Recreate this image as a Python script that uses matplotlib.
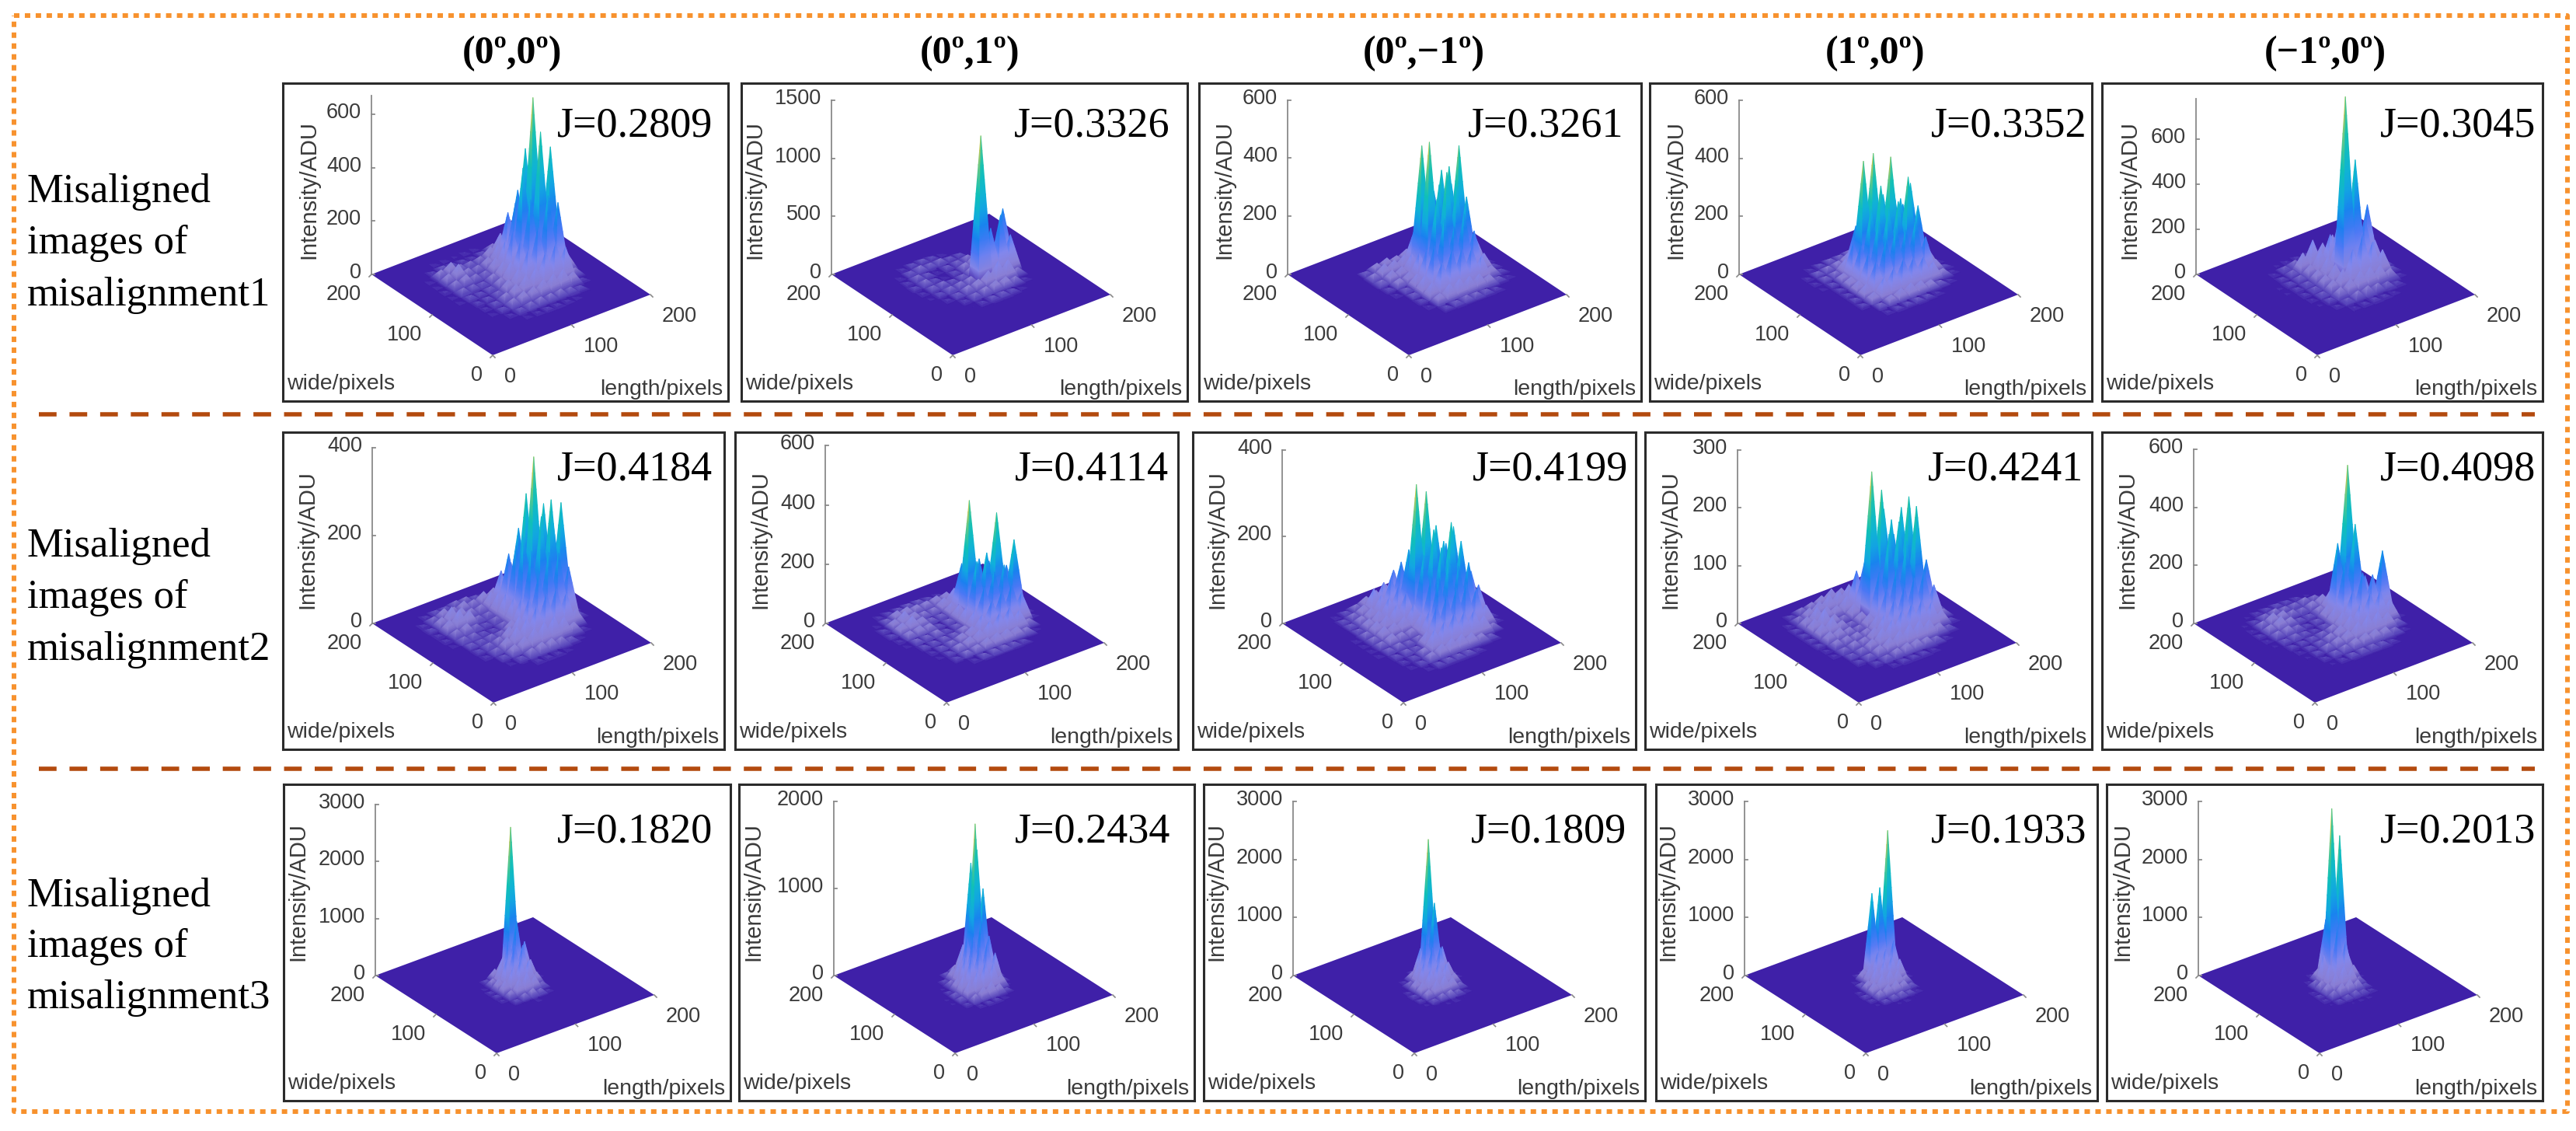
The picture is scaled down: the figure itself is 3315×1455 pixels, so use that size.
import numpy as np
import matplotlib
matplotlib.use("Agg")
import matplotlib.pyplot as plt
import matplotlib.tri as mtri
from matplotlib.colors import LinearSegmentedColormap, Normalize

# === Data ===
column_titles = ["(0º,0º)", "(0º,1º)", "(0º,−1º)", "(1º,0º)", "(−1º,0º)"]
row_labels = ["misalignment1", "misalignment2", "misalignment3"]

j_values = [
    ["J=0.2809", "J=0.3326", "J=0.3261", "J=0.3352", "J=0.3045"],
    ["J=0.4184", "J=0.4114", "J=0.4199", "J=0.4241", "J=0.4098"],
    ["J=0.1820", "J=0.2434", "J=0.1809", "J=0.1933", "J=0.2013"],
]

z_ticks = [
    [[0, 200, 400, 600], [0, 500, 1000, 1500], [0, 200, 400, 600], [0, 200, 400, 600], [0, 200, 400, 600]],
    [[0, 200, 400], [0, 200, 400, 600], [0, 200, 400], [0, 100, 200, 300], [0, 200, 400, 600]],
    [[0, 1000, 2000, 3000], [0, 1000, 2000], [0, 1000, 2000, 3000], [0, 1000, 2000, 3000], [0, 1000, 2000, 3000]],
]
z_axis_top = [
    [670, 1500, 600, 600, 780],
    [400, 600, 400, 300, 600],
    [3000, 2000, 3000, 3000, 3000],
]
base_ticks = [0, 100, 200]

# Intensity estimates. Rows go from large wide to small wide, columns from small
# length to large length; everything outside the block is flat floor.
h_r1c1 = [
    [0, 0, 5, 5, 4, 6, 5, 0, 0, 0, 0, 0],
    [0, 10, 18, 14, 12, 9, 15, 30, 42, 10, 0, 0],
    [5, 36, 50, 28, 26, 30, 52, 88, 125, 58, 0, 0],
    [5, 40, 62, 33, 30, 46, 78, 185, 255, 150, 10, 0],
    [8, 34, 42, 30, 28, 62, 112, 240, 430, 330, 20, 0],
    [5, 25, 24, 20, 36, 68, 165, 390, 640, 300, 60, 0],
    [5, 17, 15, 21, 40, 84, 150, 290, 530, 460, 70, 0],
    [0, 12, 16, 24, 52, 78, 135, 205, 310, 270, 62, 0],
    [0, 8, 18, 36, 54, 72, 88, 132, 148, 122, 30, 0],
    [0, 5, 15, 34, 46, 49, 62, 68, 72, 48, 10, 0],
    [0, 0, 8, 18, 26, 30, 29, 31, 24, 15, 0, 0],
    [0, 0, 0, 5, 8, 10, 9, 8, 5, 0, 0, 0],
]
h_r1c2 = [
    [0, 0, 0, 0, 0, 0, 0, 0, 0, 0, 0, 0],
    [0, 0, 15, 30, 35, 25, 10, 0, 0, 0, 0, 0],
    [0, 12, 40, 55, 45, 50, 35, 30, 0, 0, 0, 0],
    [0, 20, 50, 35, 12, 35, 45, 60, 40, 0, 0, 0],
    [0, 25, 55, 30, 10, 30, 70, 120, 200, 150, 0, 0],
    [0, 15, 45, 50, 35, 45, 90, 350, 240, 480, 0, 0],
    [0, 8, 30, 50, 60, 70, 1250, 420, 500, 300, 0, 0],
    [0, 0, 15, 40, 70, 90, 130, 180, 160, 60, 0, 0],
    [0, 0, 0, 20, 50, 70, 90, 90, 60, 15, 0, 0],
    [0, 0, 0, 5, 20, 35, 40, 30, 10, 0, 0, 0],
    [0, 0, 0, 0, 0, 0, 0, 0, 0, 0, 0, 0],
    [0, 0, 0, 0, 0, 0, 0, 0, 0, 0, 0, 0],
]
h_r1c3 = [
    [0, 0, 0, 0, 0, 0, 0, 0, 0, 0, 0, 0],
    [0, 0, 0, 0, 0, 0, 0, 0, 0, 0, 0, 0],
    [0, 0, 15, 30, 35, 30, 40, 60, 50, 20, 0, 0],
    [0, 0, 25, 45, 45, 50, 120, 180, 230, 120, 10, 0],
    [0, 0, 20, 40, 40, 70, 430, 220, 320, 260, 30, 0],
    [0, 0, 10, 30, 40, 90, 460, 300, 350, 409, 80, 5],
    [0, 0, 5, 15, 50, 120, 280, 360, 300, 250, 90, 8],
    [0, 0, 0, 15, 60, 150, 230, 190, 220, 150, 60, 10],
    [0, 0, 0, 10, 55, 110, 140, 130, 120, 80, 35, 10],
    [0, 0, 0, 5, 35, 55, 60, 55, 50, 35, 15, 5],
    [0, 0, 0, 0, 10, 15, 20, 18, 15, 8, 0, 0],
    [0, 0, 0, 0, 0, 0, 0, 0, 0, 0, 0, 0],
]
h_r1c4 = [
    [0, 0, 0, 0, 0, 0, 0, 0, 0, 0, 0, 0],
    [0, 0, 5, 10, 15, 15, 20, 10, 5, 0, 0, 0],
    [0, 5, 15, 20, 25, 40, 80, 60, 40, 15, 0, 0],
    [0, 5, 15, 20, 50, 150, 190, 210, 170, 60, 0, 0],
    [0, 3, 10, 30, 120, 391, 405, 250, 270, 190, 15, 0],
    [0, 0, 8, 35, 130, 240, 310, 397, 240, 280, 50, 0],
    [0, 0, 8, 40, 120, 220, 250, 260, 332, 220, 60, 5],
    [0, 0, 10, 45, 110, 170, 200, 180, 200, 130, 40, 8],
    [0, 0, 8, 35, 70, 90, 110, 100, 90, 60, 25, 5],
    [0, 0, 0, 15, 30, 40, 45, 40, 30, 15, 5, 0],
    [0, 0, 0, 5, 8, 10, 12, 10, 5, 0, 0, 0],
    [0, 0, 0, 0, 0, 0, 0, 0, 0, 0, 0, 0],
]
h_r1c5 = [
    [0, 0, 0, 0, 0, 0, 0, 0, 0, 0, 0, 0],
    [0, 0, 0, 5, 8, 10, 10, 5, 0, 0, 0, 0],
    [0, 0, 8, 25, 35, 30, 30, 40, 20, 0, 0, 0],
    [0, 3, 15, 30, 90, 130, 100, 120, 70, 10, 0, 0],
    [0, 5, 18, 30, 60, 110, 160, 230, 160, 90, 0, 0],
    [0, 5, 15, 25, 60, 100, 170, 450, 269, 265, 20, 0],
    [0, 0, 12, 25, 60, 90, 817, 520, 240, 130, 25, 0],
    [0, 0, 8, 25, 60, 90, 160, 210, 160, 110, 20, 0],
    [0, 0, 5, 20, 50, 70, 90, 90, 80, 50, 10, 0],
    [0, 0, 0, 10, 25, 40, 45, 40, 30, 15, 0, 0],
    [0, 0, 0, 3, 8, 12, 15, 12, 8, 0, 0, 0],
    [0, 0, 0, 0, 0, 0, 0, 0, 0, 0, 0, 0],
]
h_r2c1 = [
    [0, 5, 10, 10, 15, 15, 10, 5, 0, 0, 0, 0],
    [5, 15, 25, 20, 25, 20, 30, 30, 20, 5, 0, 0],
    [8, 25, 40, 30, 20, 20, 40, 80, 90, 60, 5, 0],
    [5, 30, 45, 35, 15, 15, 50, 130, 180, 140, 30, 0],
    [5, 20, 25, 15, 10, 15, 60, 160, 270, 230, 120, 5],
    [3, 15, 15, 10, 8, 15, 60, 190, 365, 250, 190, 10],
    [0, 12, 12, 15, 15, 30, 70, 170, 240, 270, 255, 15],
    [0, 8, 15, 20, 35, 50, 80, 130, 170, 160, 120, 10],
    [0, 5, 15, 30, 45, 55, 75, 95, 100, 80, 35, 0],
    [0, 0, 10, 25, 35, 45, 50, 55, 45, 25, 5, 0],
    [0, 0, 3, 10, 20, 25, 25, 20, 12, 3, 0, 0],
    [0, 0, 0, 0, 5, 5, 5, 3, 0, 0, 0, 0],
]
h_r2c2 = [
    [0, 5, 8, 10, 12, 12, 8, 5, 0, 0, 0, 0],
    [3, 15, 30, 30, 25, 25, 30, 30, 15, 0, 0, 0],
    [8, 30, 45, 30, 20, 20, 40, 60, 60, 30, 0, 0],
    [8, 35, 45, 30, 15, 15, 40, 160, 120, 100, 10, 0],
    [5, 25, 30, 25, 10, 15, 50, 390, 180, 160, 70, 0],
    [3, 15, 15, 20, 10, 15, 60, 200, 217, 340, 150, 5],
    [0, 10, 12, 15, 15, 25, 60, 130, 170, 180, 253, 10],
    [0, 5, 12, 18, 30, 40, 65, 100, 120, 130, 90, 5],
    [0, 3, 10, 25, 35, 45, 60, 75, 80, 60, 20, 0],
    [0, 0, 8, 18, 25, 35, 40, 40, 35, 20, 3, 0],
    [0, 0, 0, 5, 12, 15, 15, 12, 8, 0, 0, 0],
    [0, 0, 0, 0, 0, 0, 0, 0, 0, 0, 0, 0],
]
h_r2c3 = [
    [0, 3, 8, 15, 25, 30, 35, 20, 5, 0, 0, 0],
    [0, 8, 15, 25, 54, 60, 80, 70, 30, 5, 0, 0],
    [0, 10, 20, 30, 50, 80, 110, 120, 100, 40, 5, 0],
    [0, 10, 25, 35, 55, 75, 150, 190, 170, 130, 10, 0],
    [3, 15, 30, 35, 50, 70, 312, 287, 200, 150, 30, 0],
    [3, 15, 30, 30, 35, 55, 160, 210, 175, 200, 80, 3],
    [3, 15, 25, 20, 20, 45, 120, 180, 230, 178, 100, 5],
    [3, 12, 15, 12, 15, 60, 130, 165, 140, 140, 80, 8],
    [0, 8, 12, 10, 35, 85, 100, 110, 110, 90, 45, 5],
    [0, 5, 8, 18, 50, 60, 70, 65, 60, 40, 15, 0],
    [0, 3, 8, 20, 30, 35, 35, 30, 20, 10, 0, 0],
    [0, 0, 3, 8, 10, 10, 10, 5, 0, 0, 0, 0],
]
h_r2c4 = [
    [0, 5, 12, 15, 20, 25, 20, 10, 0, 0, 0, 0],
    [3, 12, 20, 25, 30, 30, 35, 30, 15, 0, 0, 0],
    [5, 20, 30, 25, 20, 30, 67, 90, 100, 60, 5, 0],
    [5, 25, 35, 20, 12, 25, 80, 150, 170, 120, 60, 0],
    [5, 25, 30, 18, 10, 20, 256, 218, 160, 175, 70, 5],
    [5, 20, 20, 15, 12, 25, 90, 150, 165, 202, 110, 10],
    [3, 15, 15, 15, 15, 30, 70, 100, 140, 194, 95, 15],
    [3, 10, 15, 15, 25, 40, 60, 75, 85, 90, 60, 12],
    [0, 8, 12, 20, 32, 40, 50, 55, 55, 45, 25, 5],
    [0, 5, 10, 18, 25, 30, 35, 35, 30, 18, 8, 0],
    [0, 0, 5, 10, 15, 18, 18, 15, 10, 3, 0, 0],
    [0, 0, 0, 3, 5, 5, 5, 3, 0, 0, 0, 0],
]
h_r2c5 = [
    [0, 3, 8, 10, 12, 10, 8, 3, 0, 0, 0, 0],
    [3, 10, 20, 25, 20, 20, 25, 20, 5, 0, 0, 0],
    [5, 25, 40, 35, 25, 20, 30, 40, 30, 5, 0, 0],
    [8, 30, 45, 30, 15, 15, 30, 70, 80, 50, 0, 0],
    [5, 25, 30, 20, 10, 15, 50, 250, 507, 120, 10, 0],
    [3, 15, 20, 15, 10, 15, 60, 200, 320, 130, 50, 0],
    [0, 10, 12, 15, 20, 30, 60, 120, 170, 150, 220, 5],
    [0, 5, 12, 18, 30, 45, 65, 90, 115, 110, 70, 5],
    [0, 3, 12, 25, 35, 45, 60, 70, 70, 55, 20, 0],
    [0, 0, 8, 18, 25, 35, 40, 40, 35, 20, 5, 0],
    [0, 0, 3, 8, 15, 18, 18, 15, 8, 0, 0, 0],
    [0, 0, 0, 0, 0, 0, 0, 0, 0, 0, 0, 0],
]
h_r3c1 = [
    [0, 0, 0, 0, 30, 60, 40, 0],
    [0, 0, 60, 200, 350, 2590, 500, 60],
    [0, 20, 150, 350, 700, 1000, 600, 50],
    [0, 40, 220, 500, 700, 650, 350, 30],
    [0, 50, 250, 420, 520, 450, 200, 10],
    [0, 30, 150, 300, 350, 250, 100, 0],
    [0, 5, 60, 120, 150, 100, 30, 0],
    [0, 0, 0, 10, 20, 10, 0, 0],
]
h_r3c2 = [
    [0, 0, 0, 50, 100, 300, 1205, 50],
    [0, 0, 40, 150, 300, 600, 1400, 100],
    [0, 10, 80, 250, 500, 1777, 1000, 100],
    [5, 30, 150, 350, 550, 700, 500, 80],
    [10, 60, 220, 400, 480, 500, 350, 40],
    [10, 60, 200, 280, 350, 300, 150, 10],
    [5, 30, 100, 150, 180, 120, 40, 0],
    [0, 5, 20, 30, 30, 15, 0, 0],
]
h_r3c3 = [
    [0, 0, 0, 0, 50, 100, 60, 0],
    [0, 0, 30, 150, 500, 2330, 700, 50],
    [0, 10, 100, 350, 800, 1300, 500, 40],
    [0, 30, 200, 450, 650, 600, 300, 30],
    [5, 50, 220, 380, 450, 380, 180, 10],
    [5, 40, 160, 270, 300, 220, 90, 0],
    [0, 15, 70, 110, 120, 80, 25, 0],
    [0, 0, 5, 15, 20, 10, 0, 0],
]
h_r3c4 = [
    [0, 0, 0, 30, 60, 80, 60, 0],
    [0, 0, 20, 200, 1450, 1500, 2434, 60],
    [0, 10, 80, 300, 500, 500, 600, 60],
    [0, 30, 180, 350, 400, 450, 350, 30],
    [5, 50, 220, 300, 320, 280, 150, 10],
    [5, 40, 150, 200, 220, 170, 80, 0],
    [0, 15, 60, 90, 100, 70, 25, 5],
    [0, 0, 5, 15, 20, 10, 5, 0],
]
h_r3c5 = [
    [0, 0, 0, 30, 60, 70, 30, 0],
    [0, 0, 30, 200, 1000, 900, 400, 20],
    [0, 10, 120, 500, 2978, 2463, 400, 30],
    [0, 30, 180, 400, 1000, 700, 250, 20],
    [5, 50, 200, 320, 400, 320, 120, 10],
    [5, 40, 140, 220, 240, 180, 70, 5],
    [0, 15, 60, 90, 110, 80, 40, 10],
    [0, 0, 5, 15, 20, 20, 10, 0],
]
heights = [
    [h_r1c1, h_r1c2, h_r1c3, h_r1c4, h_r1c5],
    [h_r2c1, h_r2c2, h_r2c3, h_r2c4, h_r2c5],
    [h_r3c1, h_r3c2, h_r3c3, h_r3c4, h_r3c5],
]

# === Layout, in pixels of the 3316x1455 picture ===
W, H = 3316, 1455
box_x = [
    [(364, 937), (954, 1528), (1543, 2112), (2123, 2692), (2705, 3272)],
    [(364, 932), (946, 1516), (1535, 2105), (2117, 2692), (2705, 3272)],
    [(365, 940), (951, 1537), (1549, 2117), (2131, 2699), (2711, 3272)],
]
box_y = [(107, 516), (556, 964), (1009, 1416)]
origin_x = [
    [634, 1226, 1813, 2394, 2982],
    [635, 1218, 1806, 2392, 2979],
    [639, 1229, 1820, 2401, 2985],
]
origin_y = [457, 904, 1355]
# screen pixels per unit along length, wide and intensity
length_dir = [(1.015, -0.39), (1.015, -0.385), (1.015, -0.375)]
wide_dir = [(-0.78, -0.52), (-0.78, -0.51), (-0.78, -0.50)]
z_scale = [
    [0.343, 0.1493, 0.374, 0.373, 0.29],
    [0.565, 0.381, 0.5575, 0.743, 0.373],
    [0.0733, 0.112, 0.0747, 0.0747, 0.0747],
]
# lattice of the height blocks: step, first length/wide value, half width of a spike
lattice = [(12.5, 37.5, 8.5), (12.5, 37.5, 8.5), (10.0, 60.0, 6.5)]
j_right = [
    [917, 1506, 2089, 2686, 3263],
    [917, 1504, 2095, 2681, 3263],
    [917, 1506, 2093, 2685, 3263],
]
j_baseline = [175, 618, 1083]
title_x = [659, 1248, 1832, 2413, 2992]
label_offset = [
    [33, 17, 32, 33, 35],
    [31, 32, 31, 32, 32],
    [18, 18, 16, 15, 20],
]
label_y = [244, 694, 1147]
row_baselines = [(260, 326, 393), (716, 782, 849), (1166, 1231, 1297)]

parula_like = LinearSegmentedColormap.from_list("surface", [
    (0.0, "#3f20a8"), (0.012, "#5a48bc"), (0.04, "#8a7fd4"), (0.12, "#8388ee"),
    (0.2, "#4c78f5"), (0.3, "#1a80f0"), (0.42, "#10aee0"), (0.6, "#10c0b8"),
    (0.78, "#60c888"), (0.92, "#d0c850"), (1.0, "#f8e030"),
])
GREY = "#3a3a3a"
SANS = "Liberation Sans"
SERIF = "Liberation Serif"
LEVELS = 10


def to_screen(l, w, z, r, c):
    sx = origin_x[r][c] + length_dir[r][0] * l + wide_dir[r][0] * w
    sy = origin_y[r] + length_dir[r][1] * l + wide_dir[r][1] * w - z_scale[r][c] * z
    return sx, sy


def draw_surface(ax, r, c):
    # every estimated value is one spike standing on the floor, drawn back to front
    step, first, half = lattice[r]
    block = np.array(heights[r][c], dtype=float)
    rows, cols = block.shape
    spikes = []
    for i in range(rows):
        for j in range(cols):
            if block[i, j] > 0:
                l = first + step * j
                w = first + step * (rows - 1 - i)
                spikes.append((length_dir[r][1] * l + wide_dir[r][1] * w, l, w, block[i, j]))
    spikes.sort(key=lambda s: s[0])

    xs, ys, vals, tris = [], [], [], []
    fractions = np.linspace(0, 1, LEVELS + 1)
    for _, l, w, h in spikes:
        feet = [((l - half, w + half), (l - half, w - half), 1.0),
                ((l + half, w - half), (l - half, w - half), 0.78)]
        for foot_a, foot_b, tone in feet:
            n = len(xs)
            for t in fractions:
                for foot in (foot_a, foot_b):
                    sx, sy = to_screen(foot[0] + (l - foot[0]) * t, foot[1] + (w - foot[1]) * t, h * t, r, c)
                    xs.append(sx)
                    ys.append(sy)
                    vals.append(h * t * tone)
            for k in range(LEVELS):
                a0, b0, a1, b1 = n + 2 * k, n + 2 * k + 1, n + 2 * k + 2, n + 2 * k + 3
                tris.append((a0, b0, a1))
                tris.append((b0, b1, a1))

    corners = [to_screen(a, b, 0, r, c) for a, b in [(0, 0), (200, 0), (200, 200), (0, 200)]]
    ax.fill([p[0] for p in corners], [p[1] for p in corners], color="#3f20a8", lw=0)
    projected = mtri.Triangulation(np.array(xs), np.array(ys), np.array(tris))
    ax.tripcolor(projected, np.array(vals), shading="gouraud", cmap=parula_like, norm=Normalize(0, block.max()))


def draw_axes_marks(ax, r, c):
    # intensity axis, on the left corner of the floor
    x0, y0 = to_screen(0, 200, 0, r, c)
    _, y1 = to_screen(0, 200, z_axis_top[r][c], r, c)
    ax.plot([x0, x0], [y0, y1], color="#8a8a8a", lw=1.3)
    for t in z_ticks[r][c]:
        _, yt = to_screen(0, 200, t, r, c)
        ax.plot([x0, x0 + 4], [yt, yt], color="#8a8a8a", lw=1.3)
        ax.text(x0 - 13, yt - 2, str(t), ha="right", va="center", fontsize=19.5,
                family=SANS, color=GREY, clip_on=False)
    for t in base_ticks:
        xw, yw = to_screen(0, t, 0, r, c)
        ax.text(xw - 13, yw + 26, str(t), ha="right", va="center", fontsize=19.5,
                family=SANS, color=GREY)
        ax.plot([xw, xw - 3], [yw, yw + 3], color="#8a8a8a", lw=1.2)
        xl, yl = to_screen(t, 0, 0, r, c)
        ax.text(xl + 15, yl + 28, str(t), ha="left", va="center", fontsize=19.5,
                family=SANS, color=GREY)
        ax.plot([xl, xl + 3], [yl, yl + 3], color="#8a8a8a", lw=1.2)


def draw_panel(fig, r, c):
    x0, x1 = box_x[r][c]
    y0, y1 = box_y[r]
    ax = fig.add_axes([x0 / W, 1 - y1 / H, (x1 - x0) / W, (y1 - y0) / H])
    draw_surface(ax, r, c)
    draw_axes_marks(ax, r, c)
    ax.set_xlim(x0, x1)
    ax.set_ylim(y1, y0)
    ax.set_xticks([])
    ax.set_yticks([])
    for spine in ax.spines.values():
        spine.set_linewidth(2.2)
        spine.set_color("#2b2b2b")

    ax.text(j_right[r][c], j_baseline[r], j_values[r][c], ha="right", va="baseline",
            fontsize=39, family=SERIF, color="black")
    ax.text(x0 + label_offset[r][c], label_y[r], "Intensity/ADU", rotation=90, ha="center",
            va="center", fontsize=21, family=SANS, color=GREY)
    ax.text(x0 + 5, y1 - 15, "wide/pixels", ha="left", va="baseline", fontsize=20.5,
            family=SANS, color=GREY)
    ax.text(x1 - 7, y1 - 8, "length/pixels", ha="right", va="baseline", fontsize=20.5,
            family=SANS, color=GREY)


fig = plt.figure(figsize=(W / 100, H / 100), dpi=100, facecolor="white")

# page level drawing: border, separators, titles, row labels
page = fig.add_axes([0, 0, 1, 1])
page.set_xlim(0, W)
page.set_ylim(H, 0)
page.axis("off")
page.plot([18, 3304, 3304, 18, 18], [20, 20, 1430, 1430, 20], color="#f7922e", lw=4.3,
          linestyle=(0, (1.17, 1.17)))
for y in [533, 989]:
    page.plot([50, 3262], [y, y], color="#b34a0e", lw=4.0, linestyle=(0, (4.1, 3.0)))
for x, title in zip(title_x, column_titles):
    page.text(x, 69, title, ha="center", va="center", fontsize=36, family=SERIF,
              fontweight="bold", color="black")
for label, lines in zip(row_labels, row_baselines):
    for text, y in zip(["Misaligned", "images of", label], lines):
        page.text(35, y, text, ha="left", va="baseline", fontsize=38, family=SERIF, color="black")

for r in range(3):
    for c in range(5):
        draw_panel(fig, r, c)

fig.savefig("out.png", dpi=100)
plt.close(fig)
